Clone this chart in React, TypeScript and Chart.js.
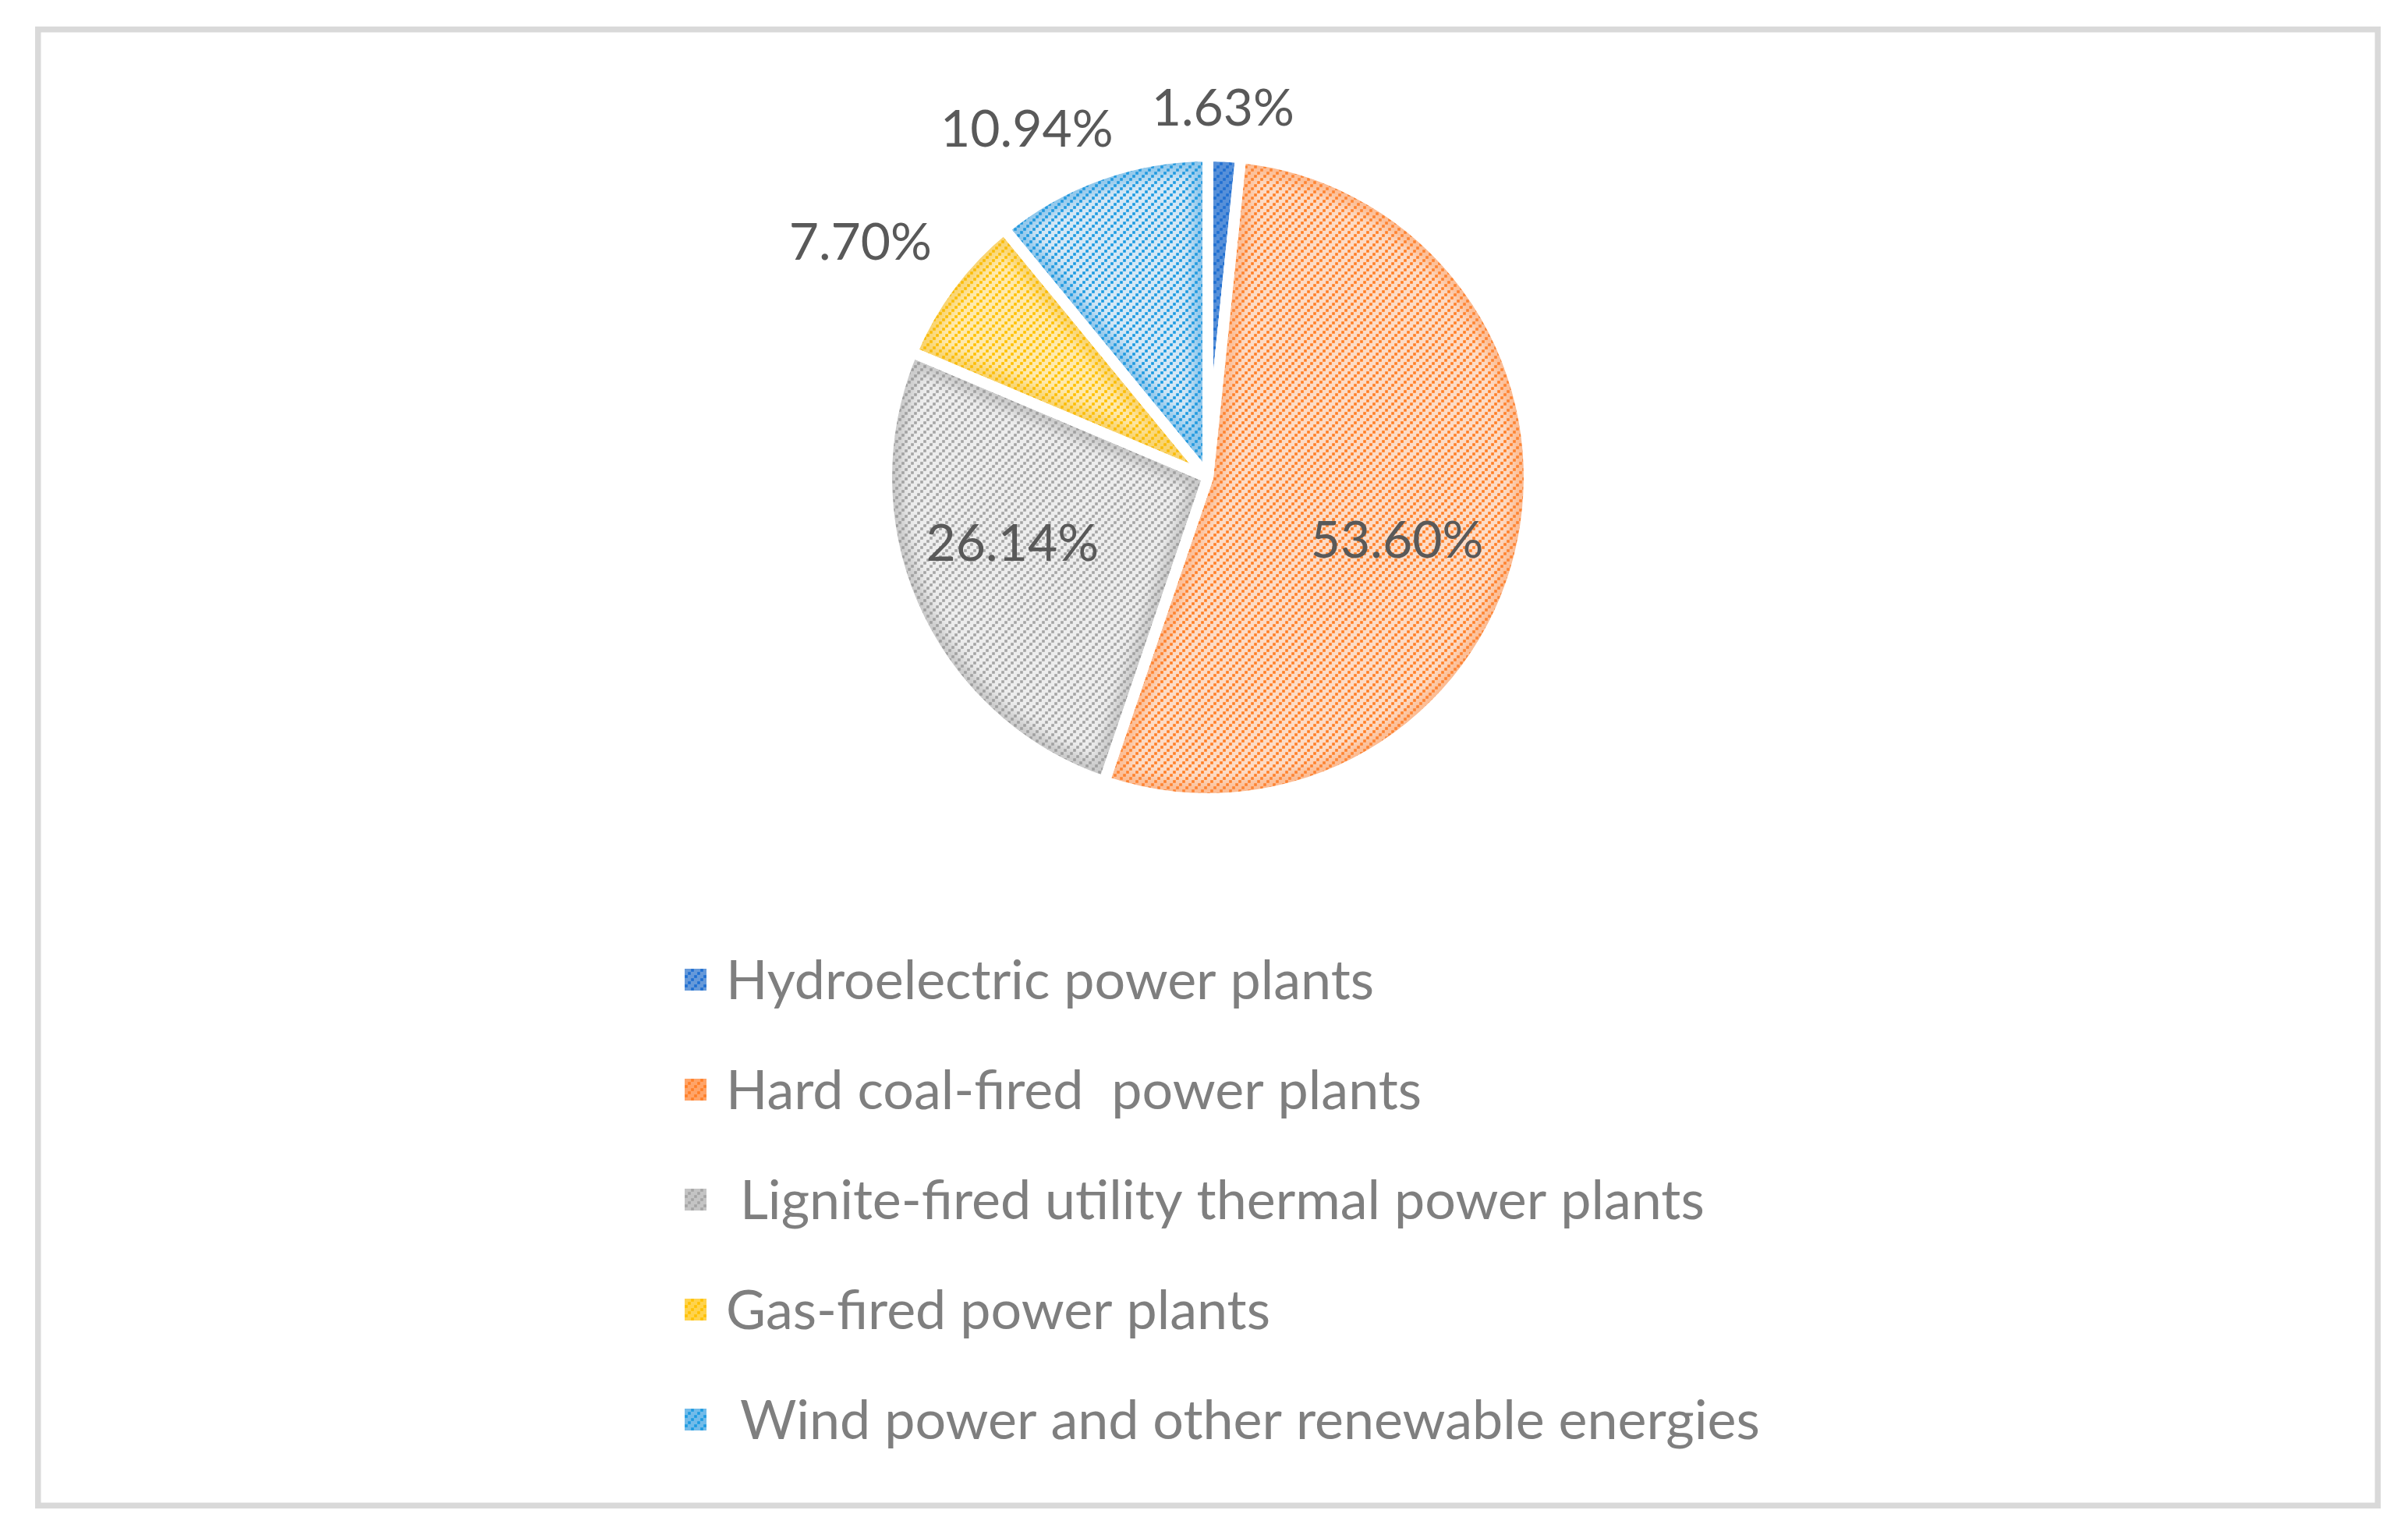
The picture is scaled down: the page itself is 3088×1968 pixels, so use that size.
import React, { useEffect, useRef } from 'react';
import { Chart, registerables } from 'chart.js';

Chart.register(...registerables);

// ---- data ----
const categories = [
  'Hydroelectric power plants',
  'Hard coal-fired  power plants',
  ' Lignite-fired utility thermal power plants',
  'Gas-fired power plants',
  ' Wind power and other renewable energies',
];
const shares = [1.63, 53.6, 26.14, 7.7, 10.94];
const valueLabels = ['1.63%', '53.60%', '26.14%', '7.70%', '10.94%'];

// ---- styles ----
const dotColors = ['#1f6fd1', '#ff7f27', '#a5a5a5', '#ffc000', '#1d9be0'];
const fillColors = ['#76a2dd', '#fddcc6', '#ededed', '#ffeaad', '#d5e8f6'];
const glowColors = [
  'rgba(31,111,209,0.35)',
  'rgba(250,140,70,0.40)',
  'rgba(150,150,150,0.40)',
  'rgba(240,180,20,0.40)',
  'rgba(40,150,220,0.40)',
];
const markerFills = ['#6699d9', '#ffa468', '#c4c4c4', '#ffd34d', '#72bbe9'];
// label placement: [radius factor, angle nudge in degrees]
const labelPlacement: [number, number][] = [
  [1.172, -0.6],
  [0.63, 5.7],
  [0.652, 5.8],
  [1.33, -2.6],
  [1.246, -7.7],
];

const FONT = 'Lato, "Open Sans", sans-serif';
const LABEL_SIZE = 66;
const LEGEND_SIZE = 70;
const BORDER = 14;

function makePattern(bg: string, fg: string): CanvasPattern | string {
  const size = 12;
  const c = document.createElement('canvas');
  c.width = size;
  c.height = size;
  const g = c.getContext('2d');
  if (!g) return bg;
  g.fillStyle = bg;
  g.fillRect(0, 0, size, size);
  g.fillStyle = fg;
  const d = 3.6;
  g.fillRect(0.2, 8.2, d, d);
  g.fillRect(4.2, 4.2, d, d);
  g.fillRect(8.2, 0.2, d, d);
  const p = g.createPattern(c, 'repeat');
  return p || bg;
}

function sectorPath(ctx: CanvasRenderingContext2D, x: number, y: number, r: number, s: number, e: number) {
  ctx.beginPath();
  ctx.moveTo(x, y);
  ctx.arc(x, y, r, s, e);
  ctx.closePath();
}

export default function App() {
  const ref = useRef<HTMLCanvasElement | null>(null);

  useEffect(() => {
    const canvas = ref.current;
    if (!canvas) return;
    const patterns = fillColors.map((b, i) => makePattern(b, dotColors[i]));
    const markerPatterns = markerFills.map((b, i) => makePattern(b, dotColors[i]));

    const framePlugin = {
      id: 'frame',
      beforeDraw(chart: any) {
        const ctx = chart.ctx;
        ctx.save();
        ctx.fillStyle = '#ffffff';
        ctx.fillRect(0, 0, chart.width, chart.height);
        ctx.strokeStyle = '#d9d9d9';
        ctx.lineWidth = 7.5;
        ctx.strokeRect(48.75, 37.75, 3000.5, 1892.5);
        ctx.restore();
      },
    };

    const shadePlugin = {
      id: 'softEdges',
      afterDatasetsDraw(chart: any) {
        const ctx: CanvasRenderingContext2D = chart.ctx;
        const meta = chart.getDatasetMeta(0);
        const props = meta.data.map((arc: any) =>
          arc.getProps(['x', 'y', 'startAngle', 'endAngle', 'outerRadius'], true)
        );
        props.forEach((p: any, i: number) => {
          ctx.save();
          sectorPath(ctx, p.x, p.y, p.outerRadius, p.startAngle, p.endAngle);
          ctx.clip();
          ctx.filter = 'blur(7px)';
          ctx.strokeStyle = glowColors[i];
          ctx.lineWidth = BORDER + 26;
          ctx.lineJoin = 'miter';
          sectorPath(ctx, p.x, p.y, p.outerRadius, p.startAngle, p.endAngle);
          ctx.stroke();
          ctx.restore();
        });
        ctx.save();
        ctx.strokeStyle = '#ffffff';
        ctx.lineWidth = BORDER;
        ctx.lineJoin = 'bevel';
        props.forEach((p: any) => {
          sectorPath(ctx, p.x, p.y, p.outerRadius, p.startAngle, p.endAngle);
          ctx.stroke();
        });
        ctx.restore();
      },
    };

    const labelPlugin = {
      id: 'sliceLabels',
      afterDatasetsDraw(chart: any) {
        const ctx = chart.ctx;
        const meta = chart.getDatasetMeta(0);
        ctx.save();
        ctx.font = `${LABEL_SIZE}px ${FONT}`;
        ctx.fillStyle = '#595959';
        ctx.textAlign = 'center';
        ctx.textBaseline = 'alphabetic';
        meta.data.forEach((arc: any, i: number) => {
          const { x, y, startAngle, endAngle, outerRadius } = arc.getProps(
            ['x', 'y', 'startAngle', 'endAngle', 'outerRadius'],
            true
          );
          const R = outerRadius - BORDER / 2;
          const [f, nudge] = labelPlacement[i];
          const a = (startAngle + endAngle) / 2 + (nudge * Math.PI) / 180;
          const lx = x + Math.cos(a) * R * f;
          const ly = y + Math.sin(a) * R * f;
          ctx.fillText(valueLabels[i], lx, ly + LABEL_SIZE * 0.36);
        });
        ctx.restore();
      },
    };

    const legendPlugin = {
      id: 'vLegend',
      afterDraw(chart: any) {
        const ctx = chart.ctx;
        const markerX = 878;
        const textX = 931;
        const firstY = 1256;
        const rowGap = 141;
        const m = 28;
        ctx.save();
        ctx.font = `${LEGEND_SIZE}px ${FONT}`;
        ctx.textAlign = 'left';
        ctx.textBaseline = 'alphabetic';
        chart.data.labels.forEach((label: string, i: number) => {
          const cy = firstY + i * rowGap;
          ctx.save();
          ctx.translate(markerX, cy - m / 2);
          ctx.fillStyle = markerPatterns[i];
          ctx.fillRect(0, 0, m, m);
          ctx.restore();
          ctx.fillStyle = '#7f7f7f';
          ctx.fillText(label, textX, cy + LEGEND_SIZE * 0.36);
        });
        ctx.restore();
      },
    };

    const chart = new Chart(canvas, {
      type: 'pie',
      data: {
        labels: categories,
        datasets: [
          {
            data: shares,
            backgroundColor: patterns as any,
            borderColor: '#ffffff',
            borderWidth: BORDER,
            hoverOffset: 0,
            radius: 412,
          } as any,
        ],
      },
      options: {
        responsive: false,
        maintainAspectRatio: false,
        animation: false,
        devicePixelRatio: 1,
        events: [],
        layout: { padding: { left: 1137, right: 1127, top: 200, bottom: 944 } },
        plugins: {
          legend: { display: false },
          tooltip: { enabled: false },
        },
      } as any,
      plugins: [framePlugin, shadePlugin, labelPlugin, legendPlugin],
    });

    return () => {
      chart.destroy();
    };
  }, []);

  return (
    <div style={{ position: 'fixed', left: 0, top: 0, width: 3088, height: 1968, background: '#ffffff' }}>
      <canvas ref={ref} width={3088} height={1968} style={{ display: 'block', width: 3088, height: 1968 }} />
    </div>
  );
}
